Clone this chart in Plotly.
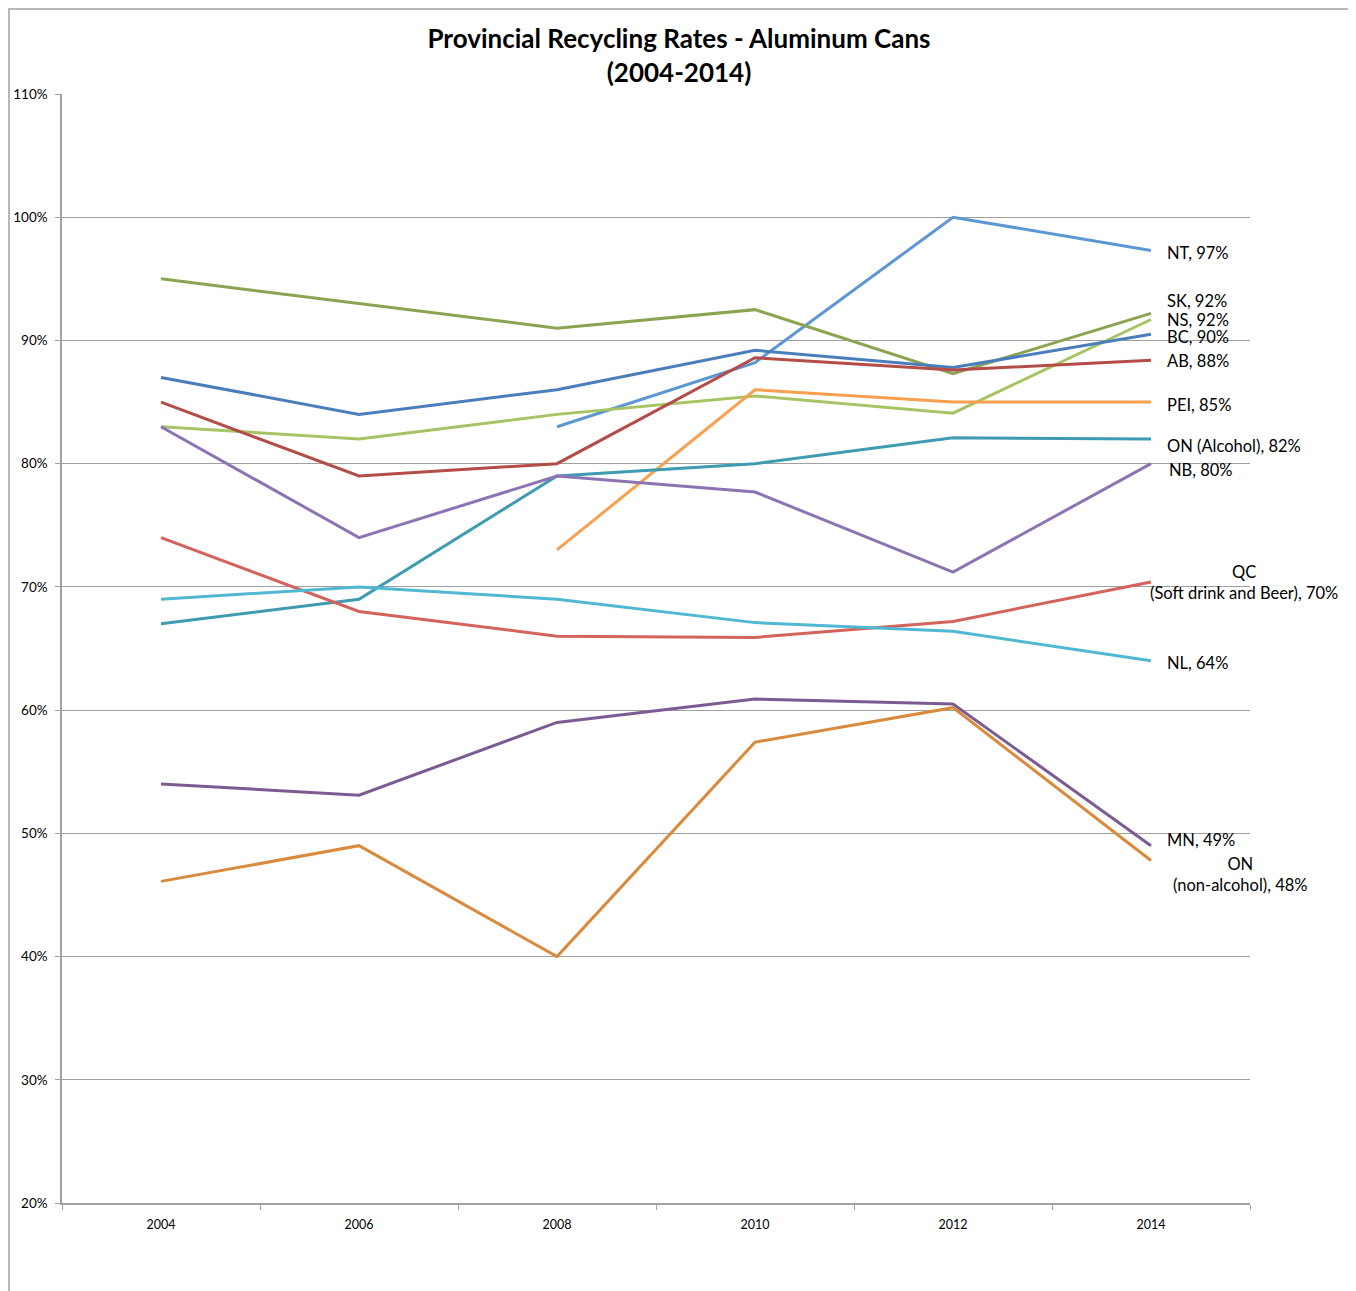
import plotly.graph_objects as go

years = ["2004", "2006", "2008", "2010", "2012", "2014"]

NT = [None, None, 83.0, 88.2, 100.0, 97.3]
SK = [95.0, 93.0, 91.0, 92.5, 87.3, 92.2]
NS = [83.0, 82.0, 84.0, 85.5, 84.1, 91.7]
BC = [87.0, 84.0, 86.0, 89.2, 87.8, 90.5]
AB = [85.0, 79.0, 80.0, 88.6, 87.6, 88.4]
PEI = [None, None, 73.0, 86.0, 85.0, 85.0]
ON_ALC = [67.0, 69.0, 79.0, 80.0, 82.1, 82.0]
NB = [83.0, 74.0, 79.0, 77.7, 71.2, 80.0]
QC = [74.0, 68.0, 66.0, 65.9, 67.2, 70.4]
NL = [69.0, 70.0, 69.0, 67.1, 66.4, 64.0]
MN = [54.0, 53.1, 59.0, 60.9, 60.5, 49.0]
ON_NON = [46.1, 49.0, 40.0, 57.4, 60.2, 47.8]

series = [
    ("NT", NT, "#5D97D3", "NT, 97%", -3, "left", 14),
    ("SK", SK, "#8AA451", "SK, 92%", 12, "left", 14),
    ("NS", NS, "#A6C463", "NS, 92%", 0, "left", 14),
    ("BC", BC, "#4A7EBB", "BC, 90%", -3, "left", 14),
    ("AB", AB, "#B44C47", "AB, 88%", -1, "left", 14),
    ("PEI", PEI, "#F8A04F", "PEI, 85%", -3, "left", 14),
    ("ON (Alcohol)", ON_ALC, "#3E9BB1", "ON (Alcohol), 82%", -7, "left", 14),
    ("NB", NB, "#8C74B3", "NB, 80%", -6, "left", 16),
    ("QC", QC, "#D3635B", "QC<br>(Soft drink and Beer), 70%", -1, "center", 93),
    ("NL", NL, "#50B8D2", "NL, 64%", -2, "left", 14),
    ("MN", MN, "#7A5C93", "MN, 49%", 6, "left", 14),
    ("ON (non-alcohol)", ON_NON, "#D98A3C", "ON<br>(non-alcohol), 48%", -14, "center", 89),
]

fig = go.Figure()
annotations = []
for name, vals, color, label, yshift, anchor, xshift in series:
    fig.add_trace(go.Scatter(
        x=years, y=vals, mode="lines", name=name,
        line=dict(color=color, width=3), connectgaps=False,
    ))
    annotations.append(dict(
        x=5, y=vals[-1], xref="x", yref="y", text=label, showarrow=False,
        xanchor=anchor, yanchor="middle", xshift=xshift, yshift=yshift,
        align="center", font=dict(size=16.5, color="#000000", family="Lato"),
    ))

# page has an 8px body offset; plot area target: x 62..1250, y 94..1203
fig.update_layout(
    width=1356, height=1291,
    margin=dict(l=54, r=114, t=86, b=96),
    paper_bgcolor="white", plot_bgcolor="white",
    showlegend=False,
    font=dict(family="Lato", color="#000000"),
    title=dict(
        text="<b>Provincial Recycling Rates - Aluminum Cans</b><br><b>(2004-2014)</b>",
        x=671 / 1356, xref="container", xanchor="center",
        y=1 - 40 / 1291, yref="container", yanchor="top",
        font=dict(size=26, family="Lato", color="#000000"),
    ),
    xaxis=dict(
        type="category", tickson="boundaries", ticks="outside", ticklen=5,
        tickcolor="#A0A0A0", showline=True, linecolor="#A0A0A0", linewidth=1.5,
        showgrid=False, tickfont=dict(size=12.5, family="Lato"), zeroline=False,
        range=[-0.5, 5.5], ticklabelstandoff=9, automargin=False,
    ),
    yaxis=dict(
        range=[20, 110], dtick=10, tick0=20, ticksuffix="%",
        ticks="outside", ticklen=5, tickcolor="#A0A0A0",
        showline=True, linecolor="#A0A0A0", linewidth=1.5,
        showgrid=True, gridcolor="#A0A0A0", gridwidth=1, zeroline=False,
        tickfont=dict(size=13.5, family="Lato"), ticklabelstandoff=5,
        automargin=False,
    ),
    annotations=annotations,
    shapes=[dict(
        type="rect", xref="paper", yref="paper",
        x0=(9 - 62) / 1188, x1=(1350 - 62) / 1188,
        y0=(1203 - 1300) / 1109, y1=(1203 - 9) / 1109,
        line=dict(color="#A0A0A0", width=1.5), fillcolor="rgba(0,0,0,0)",
        layer="below",
    )],
)

fig.write_html("out.html")
